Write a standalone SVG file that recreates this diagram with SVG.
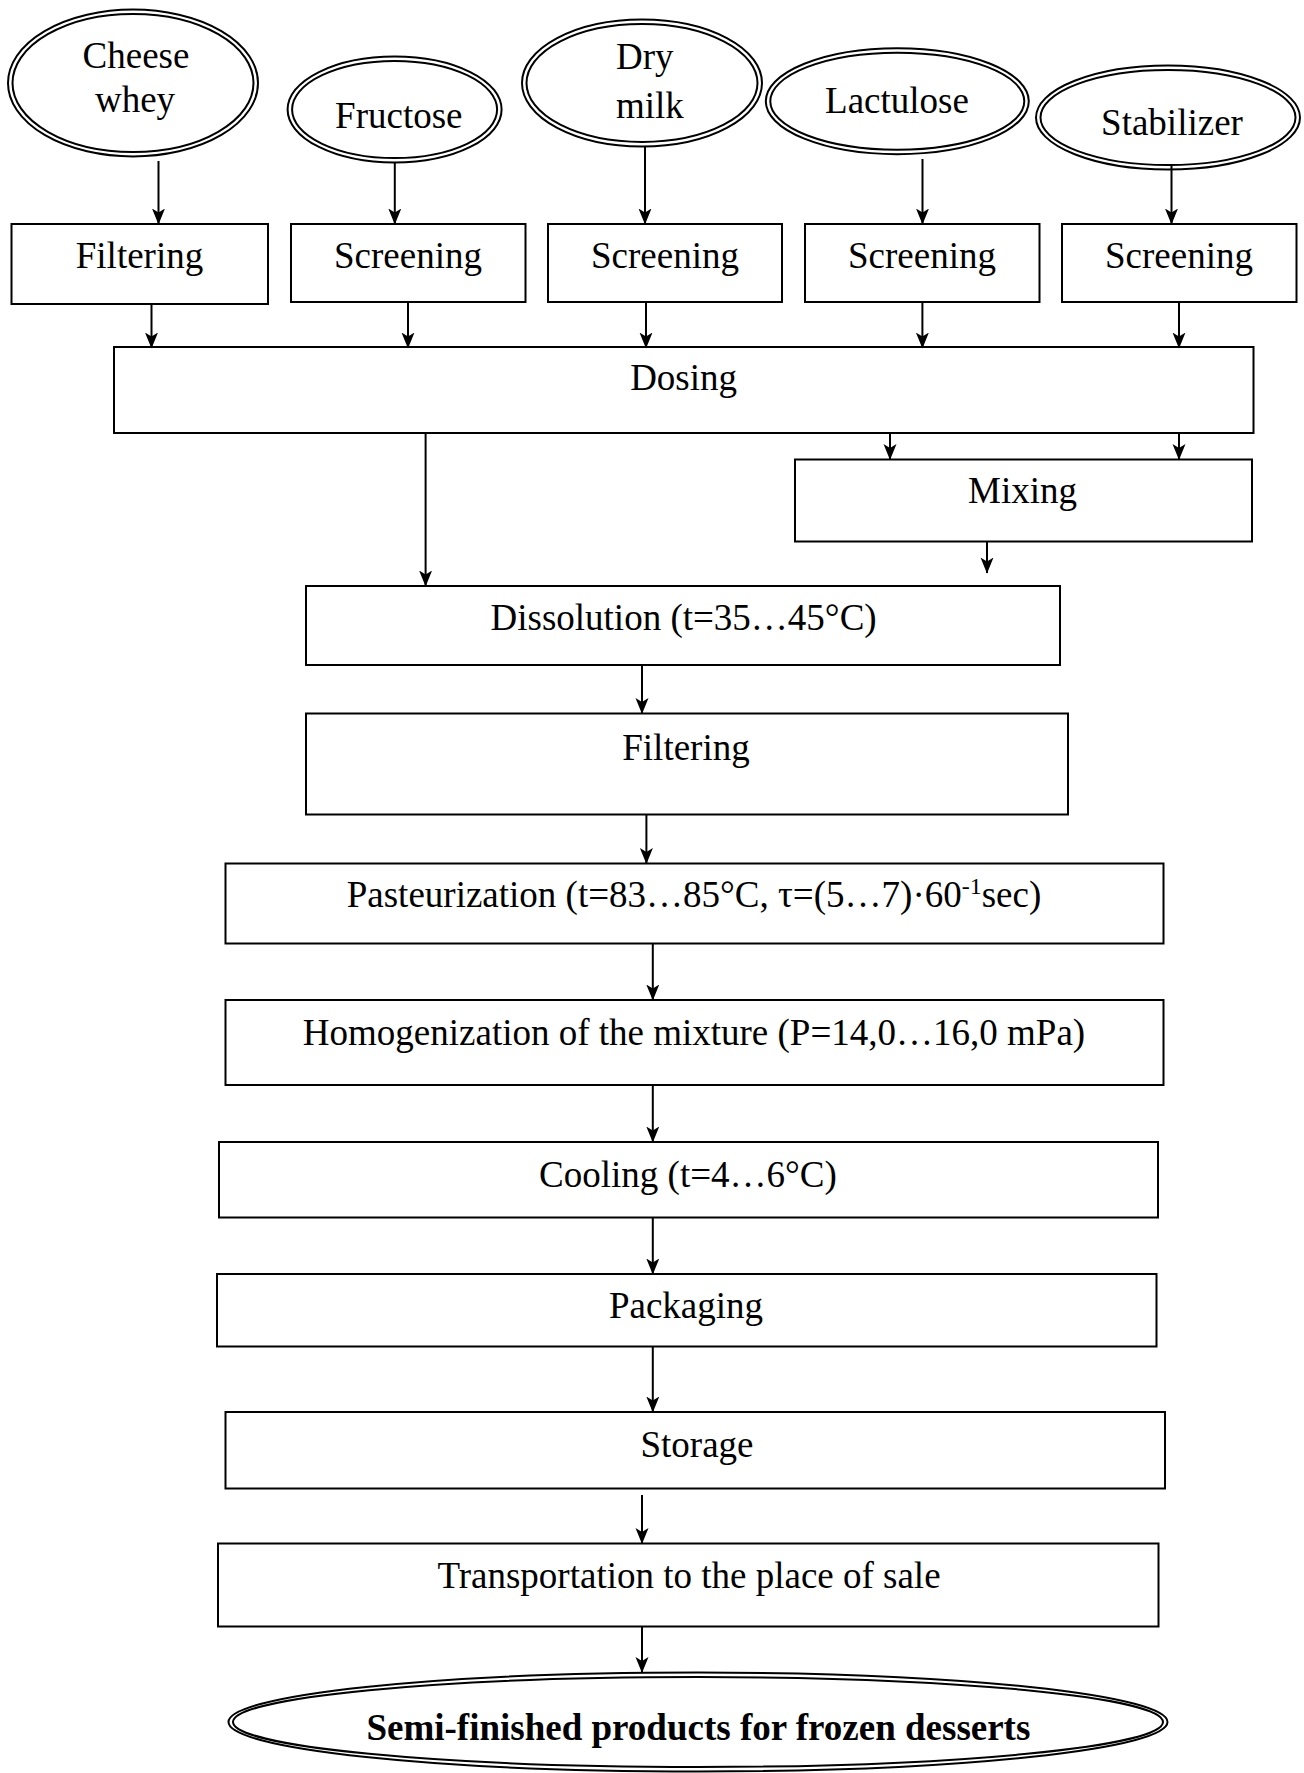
<svg xmlns="http://www.w3.org/2000/svg" width="1304" height="1773" viewBox="0 0 1304 1773">
<style>
.box{fill:none;stroke:#000;stroke-width:2}
.ell{fill:none;stroke:#000;stroke-width:2}
.t{font-family:"Liberation Serif","Times New Roman",serif;font-size:37px;fill:#000;text-anchor:middle}
.tb{font-family:"Liberation Serif","Times New Roman",serif;font-size:37px;font-weight:bold;fill:#000;text-anchor:middle}
.c{stroke:#000;stroke-width:2;fill:none;marker-end:url(#ah)}
</style>
<defs>
<marker id="ah" viewBox="0 0 16 14" refX="15.5" refY="7" markerWidth="16" markerHeight="14" orient="auto" markerUnits="userSpaceOnUse">
<path d="M0,0.5 L16,7 L0,13.5 L4,7 Z" fill="#000"/>
</marker>
</defs>
<rect width="1304" height="1773" fill="#fff"/>

<g id="cheese-whey">
<ellipse class="ell" cx="133" cy="83" rx="125" ry="73.5"/>
<ellipse class="ell" cx="133" cy="83" rx="120.5" ry="69"/>
<text class="t" x="136" y="68">Cheese</text>
<text class="t" x="135" y="112">whey</text>
</g>
<g id="fructose">
<ellipse class="ell" cx="394.6" cy="109.5" rx="107" ry="53"/>
<ellipse class="ell" cx="394.6" cy="109.5" rx="102.5" ry="48.5"/>
<text class="t" x="398.8" y="128">Fructose</text>
</g>
<g id="dry-milk">
<ellipse class="ell" cx="642" cy="83" rx="120" ry="63.5"/>
<ellipse class="ell" cx="642" cy="83" rx="115.5" ry="59"/>
<text class="t" x="616" y="69" style="text-anchor:start">Dry</text>
<text class="t" x="616" y="118" style="text-anchor:start">milk</text>
</g>
<g id="lactulose">
<ellipse class="ell" cx="897.3" cy="101.2" rx="131.5" ry="53"/>
<ellipse class="ell" cx="897.3" cy="101.2" rx="127" ry="48.5"/>
<text class="t" x="897" y="113">Lactulose</text>
</g>
<g id="stabilizer">
<ellipse class="ell" cx="1168" cy="117.5" rx="132" ry="52"/>
<ellipse class="ell" cx="1168" cy="117.5" rx="127.5" ry="47.5"/>
<text class="t" x="1172" y="135">Stabilizer</text>
</g>

<g id="filtering-1">
<rect class="box" x="11.5" y="224" width="256.5" height="80"/>
<text class="t" x="139.5" y="268">Filtering</text>
</g>
<g id="screening-2">
<rect class="box" x="291" y="224" width="234.5" height="78"/>
<text class="t" x="408" y="268">Screening</text>
</g>
<g id="screening-3">
<rect class="box" x="548" y="224" width="234" height="78"/>
<text class="t" x="665" y="268">Screening</text>
</g>
<g id="screening-4">
<rect class="box" x="805" y="224" width="234.5" height="78"/>
<text class="t" x="922" y="268">Screening</text>
</g>
<g id="screening-5">
<rect class="box" x="1062" y="224" width="234.5" height="78"/>
<text class="t" x="1179" y="268">Screening</text>
</g>

<g id="dosing">
<rect class="box" x="114" y="347" width="1139.5" height="86"/>
<text class="t" x="683.6" y="390">Dosing</text>
</g>
<g id="mixing">
<rect class="box" x="795" y="459.5" width="457" height="82"/>
<text class="t" x="1022.6" y="503">Mixing</text>
</g>
<g id="dissolution">
<rect class="box" x="306" y="586" width="754" height="79"/>
<text class="t" x="683.6" y="630">Dissolution (t=35…45°C)</text>
</g>
<g id="filtering-2">
<rect class="box" x="306" y="713.5" width="762" height="101"/>
<text class="t" x="686" y="760">Filtering</text>
</g>
<g id="pasteurization">
<rect class="box" x="225.5" y="863.5" width="938" height="80"/>
<text class="t" x="694" y="907">Pasteurization (t=83…85°C, τ=(5…7)·60<tspan font-size="24" dy="-13">-1</tspan><tspan dy="13">sec)</tspan></text>
</g>
<g id="homogenization">
<rect class="box" x="225.5" y="1000" width="938" height="85"/>
<text class="t" x="694" y="1045">Homogenization of the mixture (P=14,0…16,0 mPa)</text>
</g>
<g id="cooling">
<rect class="box" x="219" y="1142" width="939" height="75.5"/>
<text class="t" x="688" y="1187">Cooling (t=4…6°C)</text>
</g>
<g id="packaging">
<rect class="box" x="217" y="1274" width="939.5" height="72.5"/>
<text class="t" x="686" y="1318">Packaging</text>
</g>
<g id="storage">
<rect class="box" x="225.5" y="1412" width="939.5" height="76.5"/>
<text class="t" x="697" y="1457">Storage</text>
</g>
<g id="transportation">
<rect class="box" x="218" y="1543.5" width="940.5" height="83"/>
<text class="t" x="689" y="1588">Transportation to the place of sale</text>
</g>
<g id="final-product">
<ellipse class="ell" cx="698" cy="1722" rx="469.5" ry="49.5"/>
<ellipse class="ell" cx="698" cy="1722" rx="465" ry="45"/>
<text class="tb" x="698.4" y="1740">Semi-finished products for frozen desserts</text>
</g>

<g id="connectors">
<line class="c" x1="158.5" y1="161" x2="158.5" y2="224"/>
<line class="c" x1="394.8" y1="163" x2="394.8" y2="224"/>
<line class="c" x1="645" y1="147" x2="645" y2="224"/>
<line class="c" x1="922.5" y1="159" x2="922.5" y2="224"/>
<line class="c" x1="1171.5" y1="165" x2="1171.5" y2="224"/>
<line class="c" x1="151.5" y1="304" x2="151.5" y2="348"/>
<line class="c" x1="408" y1="302" x2="408" y2="348"/>
<line class="c" x1="646" y1="302" x2="646" y2="348"/>
<line class="c" x1="922.4" y1="302" x2="922.4" y2="348"/>
<line class="c" x1="1179" y1="302" x2="1179" y2="348"/>
<line class="c" x1="425.6" y1="433" x2="425.6" y2="586"/>
<line class="c" x1="890" y1="433" x2="890" y2="459.5"/>
<line class="c" x1="1179" y1="433" x2="1179" y2="459.5"/>
<line class="c" x1="987" y1="541.5" x2="987" y2="573"/>
<line class="c" x1="642" y1="665" x2="642" y2="713.5"/>
<line class="c" x1="646.4" y1="814.5" x2="646.4" y2="863.5"/>
<line class="c" x1="652.8" y1="943.5" x2="652.8" y2="1000"/>
<line class="c" x1="652.8" y1="1085" x2="652.8" y2="1142"/>
<line class="c" x1="652.8" y1="1217.5" x2="652.8" y2="1274"/>
<line class="c" x1="652.8" y1="1346.5" x2="652.8" y2="1412"/>
<line class="c" x1="642" y1="1495" x2="642" y2="1543.5"/>
<line class="c" x1="642" y1="1626.5" x2="642" y2="1672.5"/>
</g>
</svg>
